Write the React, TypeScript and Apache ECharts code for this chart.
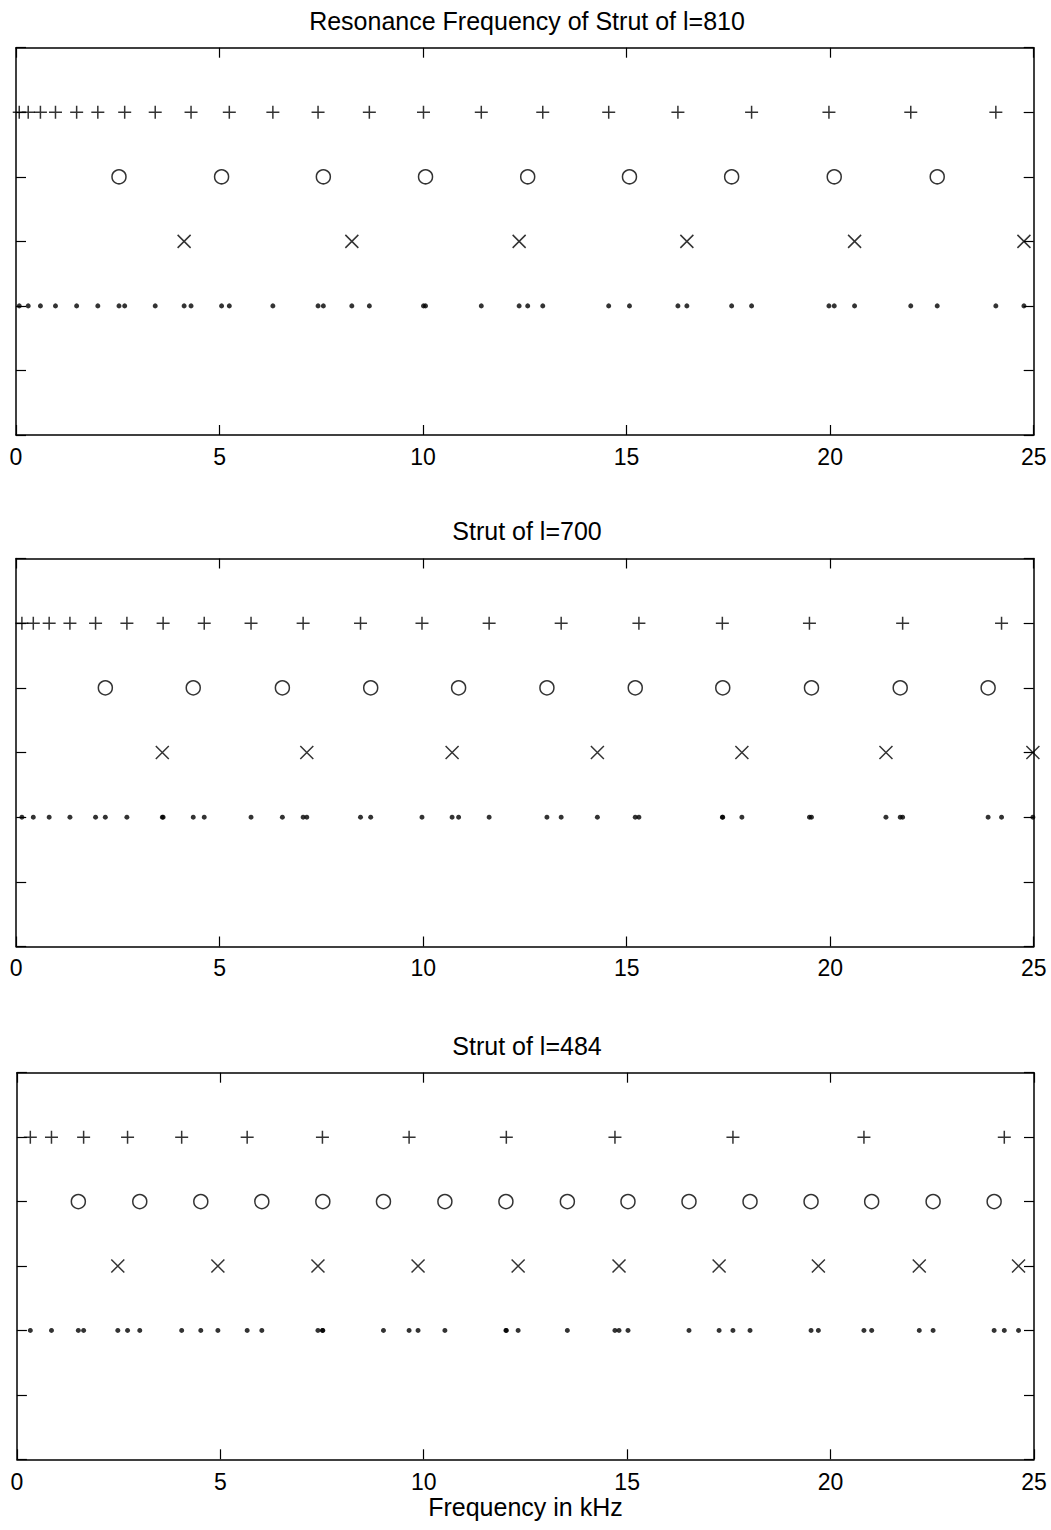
import React, { useEffect, useRef } from "react";
import * as echarts from "echarts";

// ---- data (frequencies in kHz) ----
const titles = [
  "Resonance Frequency of Strut of l=810",
  "Strut of l=700",
  "Strut of l=484",
];
const xAxisLabel = "Frequency in kHz";
const xTickValues = [0, 5, 10, 15, 20, 25];

// l = 810
const plus810 = [0.08, 0.3, 0.6, 0.97, 1.49, 2.01, 2.67, 3.42, 4.3, 5.24, 6.31, 7.42, 8.68, 10.01, 11.43, 12.94, 14.56, 16.26, 18.07, 19.97, 21.98, 24.07];
const circle810 = [2.53, 5.05, 7.55, 10.06, 12.57, 15.07, 17.58, 20.1, 22.63];
const cross810 = [4.13, 8.25, 12.36, 16.48, 20.6, 24.76];

// l = 700
const plus700 = [0.14, 0.42, 0.81, 1.32, 1.95, 2.72, 3.61, 4.62, 5.77, 7.05, 8.46, 9.97, 11.62, 13.39, 15.3, 17.35, 19.49, 21.78, 24.21];
const circle700 = [2.19, 4.35, 6.54, 8.71, 10.87, 13.04, 15.21, 17.36, 19.54, 21.72, 23.88];
const cross700 = [3.59, 7.14, 10.71, 14.28, 17.83, 21.37, 24.98];

// l = 484
const plus484 = [0.33, 0.85, 1.64, 2.72, 4.05, 5.66, 7.51, 9.64, 12.03, 14.7, 17.6, 20.82, 24.27];
const circle484 = [1.51, 3.02, 4.52, 6.02, 7.52, 9.01, 10.52, 12.02, 13.53, 15.02, 16.52, 18.02, 19.52, 21.01, 22.52, 24.02];
const cross484 = [2.48, 4.94, 7.4, 9.86, 12.32, 14.8, 17.26, 19.7, 22.18, 24.62];

// row (y) levels of each marker family
const rowPlus = 5;
const rowCircle = 4;
const rowCross = 3;
const rowAll = 2;

// ---- layout ----
const FONT = '"Liberation Sans", Arial, Helvetica, sans-serif';
const layouts = [
  { left: 16, right: 17.3, top: 47.7, height: 387.3, titleY: 20.5, labelMargin: 10 },
  { left: 16.2, right: 17.3, top: 558.5, height: 388, titleY: 531, labelMargin: 10 },
  { left: 16.9, right: 17, top: 1072.7, height: 386.6, titleY: 1045.5, labelMargin: 11 },
];
const panelData = [
  { plus: plus810, circle: circle810, cross: cross810 },
  { plus: plus700, circle: circle700, cross: cross700 },
  { plus: plus484, circle: circle484, cross: cross484 },
];

const PLUS_PATH = "path://M0,6L12,6M6,0L6,12";
const CROSS_PATH = "path://M0,0L12,12M12,0L0,12";

export default function App() {
  const ref = useRef<HTMLDivElement>(null);

  useEffect(() => {
    if (!ref.current) return;
    const chart = echarts.init(ref.current, undefined, { renderer: "svg" });

    const axisLine = { show: true, onZero: false, lineStyle: { color: "#000", width: 1.5 } };
    const tick = { show: true, inside: true, length: 10, lineStyle: { color: "#000", width: 1.2 } };

    const grid: any[] = [];
    const xAxis: any[] = [];
    const yAxis: any[] = [];
    const series: any[] = [];
    const graphic: any[] = [];

    layouts.forEach((L, i) => {
      grid.push({ left: L.left, right: L.right, top: L.top, height: L.height, containLabel: false });
      const isLast = i === layouts.length - 1;
      xAxis.push({
        type: "value",
        gridIndex: i,
        position: "bottom",
        min: xTickValues[0],
        max: xTickValues[xTickValues.length - 1],
        interval: 5,
        axisLine,
        axisTick: tick,
        splitLine: { show: false },
        axisLabel: {
          show: true,
          margin: L.labelMargin,
          fontSize: 23,
          fontFamily: FONT,
          color: "#000",
          showMinLabel: true,
          showMaxLabel: true,
        },
        name: isLast ? xAxisLabel : "",
        nameLocation: "middle",
        nameGap: 35,
        nameTextStyle: { fontSize: 25, fontFamily: FONT, color: "#000" },
      });
      xAxis.push({
        type: "value",
        gridIndex: i,
        position: "top",
        min: 0,
        max: 25,
        interval: 5,
        axisLine,
        axisTick: tick,
        splitLine: { show: false },
        axisLabel: { show: false },
      });
      yAxis.push({
        type: "value",
        gridIndex: i,
        position: "left",
        min: 0,
        max: 6,
        interval: 1,
        axisLine,
        axisTick: tick,
        splitLine: { show: false },
        axisLabel: { show: false },
      });
      yAxis.push({
        type: "value",
        gridIndex: i,
        position: "right",
        min: 0,
        max: 6,
        interval: 1,
        axisLine,
        axisTick: tick,
        splitLine: { show: false },
        axisLabel: { show: false },
      });

      const d = panelData[i];
      const xi = i * 2;
      const yi = i * 2;
      const stroke = { color: "transparent", borderColor: "#000", borderWidth: 1.5 };
      series.push({
        type: "scatter",
        xAxisIndex: xi,
        yAxisIndex: yi,
        symbol: PLUS_PATH,
        symbolSize: 13,
        itemStyle: stroke,
        clip: false,
        silent: true,
        data: d.plus.map((v) => [v, rowPlus]),
      });
      series.push({
        type: "scatter",
        xAxisIndex: xi,
        yAxisIndex: yi,
        symbol: "circle",
        symbolSize: 14,
        itemStyle: stroke,
        clip: false,
        silent: true,
        data: d.circle.map((v) => [v, rowCircle]),
      });
      series.push({
        type: "scatter",
        xAxisIndex: xi,
        yAxisIndex: yi,
        symbol: CROSS_PATH,
        symbolSize: 13,
        itemStyle: stroke,
        clip: false,
        silent: true,
        data: d.cross.map((v) => [v, rowCross]),
      });
      series.push({
        type: "scatter",
        xAxisIndex: xi,
        yAxisIndex: yi,
        symbol: "circle",
        symbolSize: 5,
        itemStyle: { color: "#000" },
        clip: false,
        silent: true,
        data: [...d.plus, ...d.circle, ...d.cross].map((v) => [v, rowAll]),
      });

      graphic.push({
        type: "text",
        x: 527,
        y: L.titleY,
        style: {
          text: titles[i],
          fontSize: 25,
          fontFamily: FONT,
          fill: "#000",
          align: "center",
          verticalAlign: "middle",
          textAlign: "center",
          textVerticalAlign: "middle",
        },
      });
    });

    chart.setOption({
      animation: false,
      backgroundColor: "#fff",
      grid,
      xAxis,
      yAxis,
      series,
      graphic,
    });

    return () => chart.dispose();
  }, []);

  return (
    <div
      ref={ref}
      style={{ position: "absolute", left: 0, top: 0, width: 1051, height: 1530, background: "#fff" }}
    />
  );
}
